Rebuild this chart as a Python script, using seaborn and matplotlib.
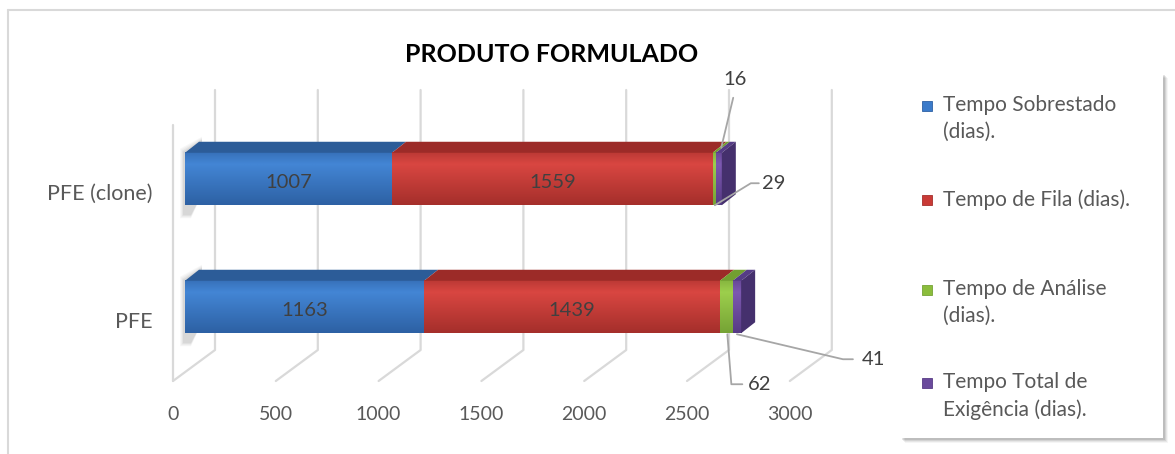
import numpy as np
import pandas as pd
import matplotlib
matplotlib.use("Agg")
import matplotlib.pyplot as plt
import matplotlib.transforms as mtransforms
from matplotlib.colors import LinearSegmentedColormap
from matplotlib.patches import Polygon, Rectangle
from matplotlib.lines import Line2D
import seaborn as sns

# ---- data -------------------------------------------------------------
categories = ["PFE (clone)", "PFE"]
sobrestado = [1007, 1163]
fila = [1559, 1439]
analise = [16, 62]
exigencia = [29, 41]
series_labels = ["Tempo Sobrestado\n(dias).", "Tempo de Fila (dias).",
                 "Tempo de Análise\n(dias).", "Tempo Total de\nExigência (dias)."]
x_ticks = [0, 500, 1000, 1500, 2000, 2500, 3000]
title = "PRODUTO FORMULADO"

# ---- style ------------------------------------------------------------
sns.set_theme(style="white")
plt.rcParams["font.family"] = ["Lato", "DejaVu Sans"]

front_light = ["#4385d4", "#d84641", "#9cce4c", "#7c58b0"]
front_dark = ["#2d61a4", "#a52f2b", "#76a335", "#573b85"]
base_colors = ["#3b7bca", "#c93a36", "#8bbd3c", "#6a4a9c"]
top_colors = ["#2c5c98", "#9c2b28", "#729f30", "#553c86"]
side_color = "#45306d"
grid_color = "#d9d9d9"
leader_color = "#a6a6a6"
text_dark = "#404040"
text_mid = "#595959"

W, H = 1175, 454
fig = plt.figure(figsize=(W / 100, H / 100), dpi=100)
fig.patch.set_facecolor("white")

# plotting box (image pixels, y downwards)
PX0, PX1 = 185, 185 + 3000 * 0.2056
PY0, PY1 = 90, 380
ax = fig.add_axes([PX0 / W, 1 - PY1 / H, (PX1 - PX0) / W, (PY1 - PY0) / H])
XMAX = 3000
Y_TOP = -89 / 128
Y_BOT = Y_TOP + (PY1 - PY0) / 128
BAR_H = 0.41


def dx(px):
    return px * XMAX / (PX1 - PX0)


def dy(px):
    return px * (Y_BOT - Y_TOP) / (PY1 - PY0)


def yd(ypix):
    return Y_TOP + (ypix - PY0) * (Y_BOT - Y_TOP) / (PY1 - PY0)


# ---- stacked bars (cumulative layers drawn back to front) -------------
cols = ["sobrestado", "fila", "analise", "exigencia"]
df = pd.DataFrame({"categoria": categories, "sobrestado": sobrestado,
                   "fila": fila, "analise": analise, "exigencia": exigencia})
cum = df[cols].cumsum(axis=1)
start = cum - df[cols]
cum["categoria"] = categories

for i in reversed(range(len(cols))):
    sns.barplot(data=cum, x=cols[i], y="categoria", orient="h",
                color=base_colors[i], saturation=1, width=BAR_H,
                errorbar=None, linewidth=0, ax=ax, zorder=3)

ax.set_xlim(0, XMAX)
ax.set_ylim(Y_BOT, Y_TOP)

DDX, DDY = dx(14), dy(-11)  # bar depth

for r, cat in enumerate(categories):
    yt, yb = r - BAR_H / 2, r + BAR_H / 2

    # soft shadow on the left wall
    for k, a in enumerate([0.05, 0.06, 0.08, 0.11]):
        g = 3 - k
        ax.add_patch(Polygon([(-dx(2 + g), yt + dy(-1 - g)),
                              (DDX + dx(3), yt + DDY - dy(2 + g)),
                              (DDX + dx(3), yb + DDY),
                              (dx(6), yb + dy(10 + g)),
                              (-dx(2 + g), yb + dy(10 + g))],
                             closed=True, fc="#6f6f6f", ec="none",
                             alpha=a, zorder=2, clip_on=False))

    for i, c in enumerate(cols):
        s = start.loc[r, c]
        e = cum.loc[r, c]
        # shaded front face
        grad = np.concatenate([np.linspace(0.55, 0.0, 12), np.linspace(0.0, 1.0, 40)])
        cmap = LinearSegmentedColormap.from_list("f", [front_light[i], front_dark[i]])
        ax.imshow(grad[:, None], cmap=cmap, aspect="auto", origin="upper",
                  extent=(s, e, yb, yt), zorder=4, interpolation="bilinear")
        # top face
        ax.add_patch(Polygon([(s, yt), (e, yt), (e + DDX, yt + DDY), (s + DDX, yt + DDY)],
                             closed=True, fc=top_colors[i], ec="none", zorder=4))
        if i == len(cols) - 1:
            ax.add_patch(Polygon([(e, yt), (e, yb), (e + DDX, yb + DDY), (e + DDX, yt + DDY)],
                                 closed=True, fc=side_color, ec="none", zorder=4))

ax.set_xlim(0, XMAX)
ax.set_ylim(Y_BOT, Y_TOP)

# ---- 3-D walls: back grid, floor and left edge -----------------------
BACK = dx(30)
for v in x_ticks:
    ax.plot([v + BACK, v + BACK, v + BACK - dx(42)], [yd(90), yd(350), yd(381)],
            color=grid_color, lw=1.6, zorder=1, clip_on=False, solid_capstyle="round")
ax.plot([-dx(12), -dx(12)], [yd(125), yd(381)], color=grid_color, lw=1.6,
        zorder=1, clip_on=False)

# ---- axes & tick labels ----------------------------------------------
for sp in ax.spines.values():
    sp.set_visible(False)
ax.set_xlabel("")
ax.set_ylabel("")
ax.set_xticks(x_ticks)
ax.set_xticklabels([str(v) for v in x_ticks])
ax.tick_params(axis="x", length=0, pad=19, labelsize=14, labelcolor=text_mid)
ax.tick_params(axis="y", length=0, pad=23.5, labelsize=15.5, labelcolor=text_mid)
shift_x = mtransforms.ScaledTranslation(-12 / 100, 0, fig.dpi_scale_trans)
for lab in ax.get_xticklabels():
    lab.set_transform(lab.get_transform() + shift_x)
shift_y = mtransforms.ScaledTranslation(0, -13 / 100, fig.dpi_scale_trans)
for lab in ax.get_yticklabels():
    lab.set_transform(lab.get_transform() + shift_y)

# ---- value labels -----------------------------------------------------
vals = {c: df[c].tolist() for c in cols}
for r in range(len(categories)):
    for i in (0, 1):
        c = cols[i]
        xm = (start.loc[r, c] + cum.loc[r, c]) / 2
        ax.text(xm, r + dy(4), str(vals[c][r]), ha="center", va="center",
                fontsize=14.5, color=text_dark, zorder=6)

# small segments: labels with leader lines (pixel offsets from anchor)
callouts = [
    # (row, series, anchor side, path offsets, text offset, ha)
    (0, 2, "top", [(7, -5), (19, -55)], (21, -73), "center"),
    (0, 3, "bottom", [(-4, 0), (32, -22), (40, -22)], (43, -22), "left"),
    (1, 3, "bottom", [(0, 1), (106, 26), (116, 26)], (125, 26), "left"),
    (1, 2, "bottom", [(1, 1), (5, 51), (16, 51)], (22, 51), "left"),
]
for r, i, side, path, toff, ha in callouts:
    c = cols[i]
    xa = (start.loc[r, c] + cum.loc[r, c]) / 2
    ya = r - BAR_H / 2 if side == "top" else r + BAR_H / 2
    xs = [xa + dx(p[0]) for p in path]
    ys = [ya + dy(p[1]) for p in path]
    ax.plot(xs, ys, color=leader_color, lw=1.3, zorder=7, clip_on=False)
    ax.text(xa + dx(toff[0]), ya + dy(toff[1]), str(vals[c][r]), ha=ha, va="center",
            fontsize=14.5, color=text_dark, zorder=7, clip_on=False)

# ---- title ------------------------------------------------------------
fig.text(552 / W, 1 - 54 / H, title, ha="center", va="center",
         fontsize=18, fontweight="bold", color="black")

# ---- legend panel -----------------------------------------------------
LX0, LY0, LX1, LY1 = 900, 73, 1163, 438
for k, a in enumerate([0.04, 0.06, 0.08, 0.10]):
    off = 5 - k
    fig.add_artist(Rectangle(((LX0 + off) / W, 1 - (LY1 + off) / H),
                             (LX1 - LX0) / W, (LY1 - LY0) / H,
                             transform=fig.transFigure, fc="black", ec="none", alpha=a))
fig.add_artist(Rectangle((LX0 / W, 1 - LY1 / H), (LX1 - LX0) / W, (LY1 - LY0) / H,
                         transform=fig.transFigure, fc="white", ec="none"))
entry_y = [106, 200, 290, 383]
for i, lab in enumerate(series_labels):
    yy = entry_y[i]
    fig.add_artist(Rectangle((922 / W, 1 - (yy + 5) / H), 10 / W, 10 / H,
                             transform=fig.transFigure, fc=base_colors[i],
                             ec=front_dark[i], lw=0.6))
    fig.text(943 / W, 1 - (yy - 11) / H, lab, ha="left", va="top", fontsize=15,
             color=text_mid, linespacing=1.45)

# ---- chart frame -----------------------------------------------------
fig.add_artist(Line2D([8 / W, 1], [1 - 10 / H, 1 - 10 / H], transform=fig.transFigure,
                      color="#d9d9d9", lw=1.5))
fig.add_artist(Line2D([8 / W, 8 / W], [0, 1 - 10 / H], transform=fig.transFigure,
                      color="#d9d9d9", lw=1.5))

fig.savefig("out.png", dpi=100, facecolor="white")
